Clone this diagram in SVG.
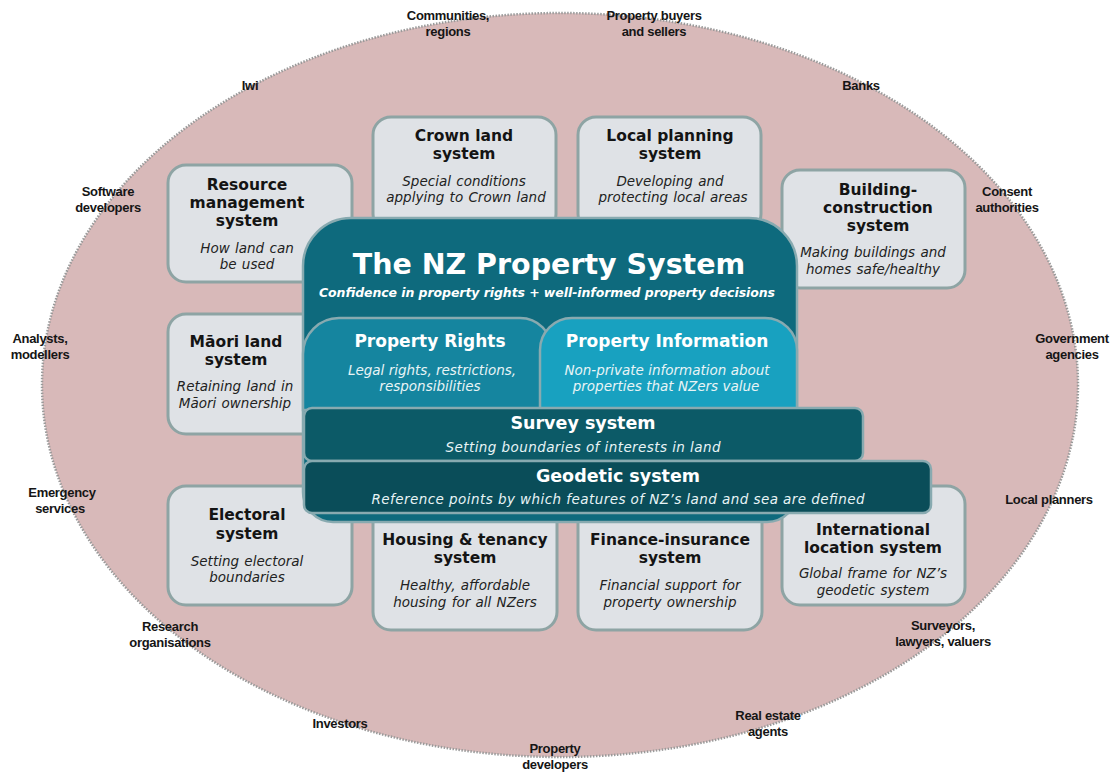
<svg xmlns="http://www.w3.org/2000/svg" width="1117" height="774" viewBox="0 0 1117 774">
<style>
.lbl{font-family:"Liberation Sans",Arial,sans-serif;font-weight:bold;font-size:13px;fill:#151515;text-anchor:middle;letter-spacing:-0.3px}
.box{fill:#dfe2e6;stroke:#8ea4a4;stroke-width:3}
.bt{font-family:"DejaVu Sans",Verdana,sans-serif;font-weight:bold;font-size:15.5px;fill:#141414;text-anchor:middle}
.bi{font-family:"DejaVu Sans",Verdana,sans-serif;font-style:italic;font-size:13.5px;fill:#222;text-anchor:middle;word-spacing:1px}
.wt{font-family:"DejaVu Sans",Verdana,sans-serif;font-weight:bold;fill:#fff;text-anchor:middle}
.wi{font-family:"DejaVu Sans",Verdana,sans-serif;font-style:italic;font-size:13.5px;fill:#e8f4f6;text-anchor:middle}
.core{stroke:#88aab0;stroke-width:2.5}
</style>
<rect width="1117" height="774" fill="#fff"/>
<g id="stakeholders">
<ellipse cx="560" cy="385" rx="518" ry="372" fill="#d8b9b9" stroke="#9a9a9a" stroke-width="2.5" stroke-dasharray="1.5 1.5"/>
<text class="lbl" x="448" y="20">Communities,</text><text class="lbl" x="448" y="36">regions</text>
<text class="lbl" x="654" y="20">Property buyers</text><text class="lbl" x="654" y="36">and sellers</text>
<text class="lbl" x="250" y="90">Iwi</text>
<text class="lbl" x="861" y="90">Banks</text>
<text class="lbl" x="108" y="196">Software</text><text class="lbl" x="108" y="212">developers</text>
<text class="lbl" x="1007" y="196">Consent</text><text class="lbl" x="1007" y="212">authorities</text>
<text class="lbl" x="40" y="343">Analysts,</text><text class="lbl" x="40" y="359">modellers</text>
<text class="lbl" x="1072" y="343">Government</text><text class="lbl" x="1072" y="359">agencies</text>
<text class="lbl" x="62" y="497">Emergency</text><text class="lbl" x="60" y="513">services</text>
<text class="lbl" x="1049" y="504">Local planners</text>
<text class="lbl" x="170" y="631">Research</text><text class="lbl" x="170" y="647">organisations</text>
<text class="lbl" x="943" y="630">Surveyors,</text><text class="lbl" x="943" y="646">lawyers, valuers</text>
<text class="lbl" x="340" y="728">Investors</text>
<text class="lbl" x="768" y="720">Real estate</text><text class="lbl" x="768" y="736">agents</text>
<text class="lbl" x="555" y="753">Property</text><text class="lbl" x="555" y="769">developers</text>
</g>
<g id="connectors"/>
<g id="resource-management">
<rect class="box" x="168" y="165" width="184" height="117" rx="18"/>
<text class="bt" x="247" y="190">Resource</text><text class="bt" x="247" y="208">management</text><text class="bt" x="247" y="226">system</text>
<text class="bi" x="247" y="253">How land can</text><text class="bi" x="247" y="269">be used</text>
</g>
<g id="crown-land">
<rect class="box" x="373" y="117" width="183" height="115" rx="18"/>
<text class="bt" x="464" y="141">Crown land</text><text class="bt" x="464" y="159">system</text>
<text class="bi" x="464" y="186">Special conditions</text><text class="bi" x="466" y="202">applying to Crown land</text>
</g>
<g id="local-planning">
<rect class="box" x="578" y="117" width="183" height="115" rx="18"/>
<text class="bt" x="670" y="141">Local planning</text><text class="bt" x="670" y="159">system</text>
<text class="bi" x="670" y="186">Developing and</text><text class="bi" x="673" y="202">protecting local areas</text>
</g>
<g id="building-construction">
<rect class="box" x="782" y="170" width="183" height="118" rx="18"/>
<text class="bt" x="878" y="195">Building-</text><text class="bt" x="878" y="213">construction</text><text class="bt" x="878" y="231">system</text>
<text class="bi" x="873" y="257">Making buildings and</text><text class="bi" x="873" y="274">homes safe/healthy</text>
</g>
<g id="maori-land">
<rect class="box" x="168" y="314" width="170" height="120" rx="18"/>
<text class="bt" x="236" y="347">Māori land</text><text class="bt" x="236" y="365">system</text>
<text class="bi" x="235" y="391">Retaining land in</text><text class="bi" x="235" y="408">Māori ownership</text>
</g>
<g id="electoral">
<rect class="box" x="168" y="486" width="184" height="119" rx="18"/>
<text class="bt" x="247" y="520">Electoral</text><text class="bt" x="247" y="539">system</text>
<text class="bi" x="247" y="566">Setting electoral</text><text class="bi" x="247" y="582">boundaries</text>
</g>
<g id="housing-tenancy">
<rect class="box" x="373" y="505" width="184" height="125" rx="18"/>
<text class="bt" x="465" y="545">Housing &amp; tenancy</text><text class="bt" x="465" y="563">system</text>
<text class="bi" x="465" y="590">Healthy, affordable</text><text class="bi" x="465" y="607">housing for all NZers</text>
</g>
<g id="finance-insurance">
<rect class="box" x="578" y="505" width="184" height="125" rx="18"/>
<text class="bt" x="670" y="545">Finance-insurance</text><text class="bt" x="670" y="563">system</text>
<text class="bi" x="670" y="590">Financial support for</text><text class="bi" x="670" y="607">property ownership</text>
</g>
<g id="international-location">
<rect class="box" x="782" y="486" width="183" height="119" rx="18"/>
<text class="bt" x="873" y="535">International</text><text class="bt" x="873" y="553">location system</text>
<text class="bi" x="873" y="578">Global frame for NZ’s</text><text class="bi" x="873" y="595">geodetic system</text>
</g>
<g id="nz-property-system">
<path class="core" fill="#0e6a7d" d="M351,218 H749 A48 48 0 0 1 797,266 V492 A30 30 0 0 1 767,522 H333 A30 30 0 0 1 303,492 V266 A48 48 0 0 1 351,218 Z"/>
<text class="wt" x="549" y="274" font-size="28.5">The NZ Property System</text>
<text x="547" y="297" font-family="DejaVu Sans,Verdana,sans-serif" font-weight="bold" font-style="italic" font-size="12.5" fill="#fff" text-anchor="middle" textLength="456" lengthAdjust="spacing">Confidence in property rights  + well-informed property decisions</text>
</g>
<g id="property-rights">
<path class="core" fill="#15859f" d="M303,410 V354 A36 36 0 0 1 339,318 H520 A32 32 0 0 1 552,350 V410 Z"/>
<text class="wt" x="430" y="347" font-size="17">Property Rights</text>
<text class="wi" x="432" y="375">Legal rights, restrictions,</text>
<text class="wi" x="430" y="391">responsibilities</text>
</g>
<g id="property-information">
<path class="core" fill="#18a1c0" d="M540,410 V350 A32 32 0 0 1 572,318 H765 A32 32 0 0 1 797,350 V410 Z"/>
<text class="wt" x="667" y="347" font-size="17">Property Information</text>
<text class="wi" x="667" y="375">Non-private information about</text>
<text class="wi" x="666" y="391">properties that NZers value</text>
</g>
<g id="survey-system">
<rect class="core" fill="#0c5a67" x="304" y="408" width="559" height="53" rx="8"/>
<text class="wt" x="583" y="429" font-size="17.5">Survey system</text>
<text class="wi" x="583" y="452" textLength="275" lengthAdjust="spacing">Setting boundaries of interests in land</text>
</g>
<g id="geodetic-system">
<rect class="core" fill="#0a4d59" x="304" y="461" width="627" height="52" rx="8"/>
<text class="wt" x="618" y="482" font-size="17.5">Geodetic system</text>
<text class="wi" x="618" y="504" textLength="493" lengthAdjust="spacing">Reference points by which features of NZ’s land and sea are defined</text>
</g>
</svg>
